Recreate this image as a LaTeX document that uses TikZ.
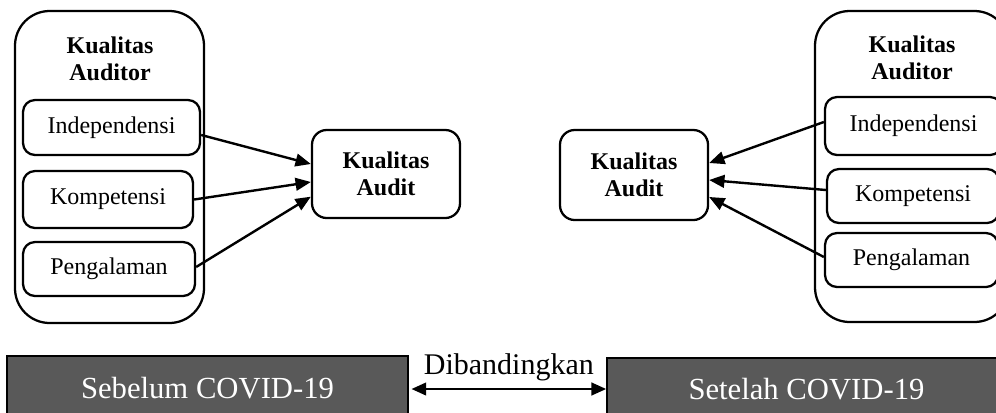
\documentclass[tikz,border=0pt]{standalone}
\usepackage{fontspec}
\setmainfont{Liberation Serif}
\usetikzlibrary{arrows.meta}
\definecolor{darkbox}{HTML}{595959}
\tikzset{
  outerbox/.style={draw, line width=1.7pt, rounded corners=26pt, inner sep=0pt},
  itembox/.style={draw, line width=1.7pt, rounded corners=9pt, inner sep=0pt, align=center,
    font=\fontsize{18}{21}\selectfont},
  qualbox/.style={draw, line width=1.7pt, rounded corners=11pt, inner sep=0pt, align=center,
    font=\fontsize{18}{20.25}\selectfont\bfseries, minimum width=111pt},
  titletext/.style={align=center, font=\fontsize{18}{20.25}\selectfont\bfseries},
  periodbox/.style={draw, line width=1.3pt, fill=darkbox, text=white, inner sep=0pt,
    font=\fontsize{23}{26}\selectfont},
  link/.style={line width=1.8pt, -{Triangle[length=11.5pt,width=9.5pt]}},
  bothlink/.style={line width=1.6pt, {Triangle[length=11pt,width=9.5pt]}-{Triangle[length=11pt,width=9.5pt]}}
}
\begin{document}
\begin{tikzpicture}[x=0.75pt,y=-0.75pt]
\path[use as bounding box, clip] (0,0) rectangle (996,412);
% sebelum
\node [outerbox, minimum width=141.75pt, minimum height=234pt] (auditorL) at (109.5,167) {};
\node [titletext] (titleL) at (110,59) {Kualitas\\Auditor};
\node [itembox, minimum width=132.75pt, minimum height=41.25pt] (indL) at (111.5,127.5) {Independensi};
\node [itembox, minimum width=127.5pt, minimum height=42.75pt] (kompL) at (108,199.5) {Kompetensi};
\node [itembox, minimum width=129pt, minimum height=40.5pt] (pengL) at (109,269) {Pengalaman};
\node [qualbox, minimum height=66pt] (auditL) at (386,174) {Kualitas\\Audit};
\draw [link] ([yshift=-5.6pt]indL.east) -- ([yshift=7.5pt]auditL.west);
\draw [link] (kompL.east) -- ([yshift=-6pt]auditL.west);
\draw [link] ([yshift=1.5pt]pengL.east) -- ([yshift=-17pt]auditL.west);
% setelah
\node [outerbox, minimum width=145.5pt, minimum height=233.25pt] (auditorR) at (912,166.5) {};
\node [titletext] (titleR) at (912,58) {Kualitas\\Auditor};
\node [itembox, minimum width=132.75pt, minimum height=43.5pt] (indR) at (913.5,126) {Independensi};
\node [itembox, minimum width=129pt, minimum height=40.5pt] (kompR) at (913,196) {Kompetensi};
\node [itembox, minimum width=129.75pt, minimum height=40.5pt] (pengR) at (911.5,260) {Pengalaman};
\node [qualbox, minimum height=67.5pt] (auditR) at (634,175) {Kualitas\\Audit};
\draw [link] ([yshift=3pt]indR.west) -- ([yshift=9pt]auditR.east);
\draw [link] ([yshift=4.5pt]kompR.west) -- ([yshift=-3.75pt]auditR.east);
\draw [link] ([yshift=2.25pt]pengR.west) -- ([yshift=-16.5pt]auditR.east);
% perbandingan
\node [periodbox, minimum width=300.75pt, minimum height=48pt] (sebelum) at (207.5,388) {Sebelum COVID-19};
\node [periodbox, minimum width=299.25pt, minimum height=46.5pt] (setelah) at (806.5,389) {Setelah COVID-19};
\draw [bothlink] ([xshift=2pt,yshift=-0.75pt]sebelum.east) -- ([yshift=-0.75pt]sebelum.east -| setelah.west)
  node [midway, above, font=\fontsize{22.5}{25}\selectfont, inner sep=5pt] {Dibandingkan};
\end{tikzpicture}
\end{document}
